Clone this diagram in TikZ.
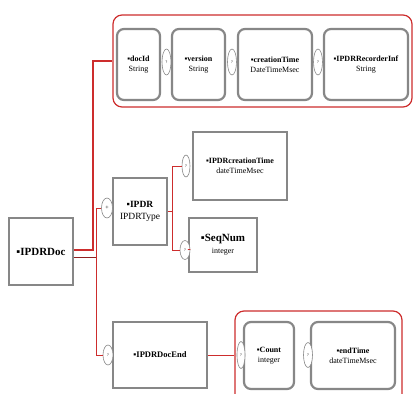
\documentclass[tikz,border=0pt]{standalone}
\usepackage{fontspec}
\setmainfont{Liberation Serif}
\usetikzlibrary{shapes, positioning}
\definecolor{linkred}{RGB}{205, 45, 45}
\definecolor{boxgray}{RGB}{135, 135, 135}

\begin{document}
\begin{tikzpicture}[x=1pt, y=-1pt,
        elem/.style={rectangle, draw=boxgray, line width=2.2pt, fill=white, align=center, inner sep=1pt, font=\fontsize{8}{10}\selectfont},
        attr/.style={elem, rounded corners=7pt},
        group/.style={rectangle, draw=linkred, line width=1.2pt, rounded corners=9pt},
        card/.style={ellipse, draw=boxgray, fill=white, line width=0.6pt, inner sep=0pt, font=\fontsize{4}{4}\selectfont},
        link/.style={draw=linkred, line width=0.9pt},
        mainlink/.style={draw=linkred, line width=1.8pt}
    ]
        \useasboundingbox (0,0) rectangle (416,394);

        % red groups
        \node[group, minimum width=299pt, minimum height=92pt] (topgrp) at (262.5, 61) {};
        \node[group, minimum width=167pt, minimum height=99pt] (endgrp) at (318.5, 360.5) {};

        % header attributes
        \node[attr, minimum width=43pt, minimum height=71pt] (docid) at (138.5, 64.5) {\textbf{▪docId}\\String};
        \node[attr, minimum width=53pt, minimum height=71pt] (version) at (198.5, 64.5) {\textbf{▪version}\\String};
        \node[attr, minimum width=74pt, minimum height=71pt] (ctime) at (275, 64.5) {\textbf{▪creationTime}\\DateTimeMsec};
        \node[attr, minimum width=84pt, minimum height=71pt] (recinf) at (366, 64.5) {\textbf{▪IPDRRecorderInf}\\String};
        \node[card, minimum width=9pt, minimum height=26pt] (q1) at (166.5, 62) {?};
        \node[card, minimum width=9pt, minimum height=26pt] (q2) at (232, 62) {?};
        \node[card, minimum width=9pt, minimum height=26pt] (q3) at (318, 62) {?};

        % main elements
        \node[elem, minimum width=64pt, minimum height=67pt, font=\fontsize{11}{13}\selectfont\bfseries] (doc) at (41, 251.5) {▪IPDRDoc};
        \node[elem, minimum width=54pt, minimum height=67pt, font=\fontsize{9.5}{12}\selectfont] (ipdr) at (140, 211.5) {\textbf{▪IPDR}\\IPDRType};
        \node[elem, minimum width=94pt, minimum height=66pt, font=\fontsize{8.5}{10}\selectfont\bfseries] (docend) at (160, 355) {▪IPDRDocEnd};
        \node[card, minimum width=11pt, minimum height=20pt, font=\fontsize{6}{6}\selectfont] (plus) at (107, 208) {+};
        \node[card, minimum width=10pt, minimum height=20pt] (qend) at (108, 355) {?};

        % IPDR children
        \node[elem, minimum width=94pt, minimum height=68pt] (ipdrtime) at (240, 166) {\textbf{▪IPDRcreationTime}\\dateTimeMsec};
        \node[elem, minimum width=68pt, minimum height=54pt, font=\fontsize{11}{13}\selectfont] (seq) at (223, 245) {\textbf{▪SeqNum}\\[-1pt]{\fontsize{8}{9}\selectfont integer}};
        \node[card, minimum width=8pt, minimum height=22pt] (qtime) at (186, 166) {?};
        \node[card, minimum width=10pt, minimum height=19pt] (qseq) at (185, 250) {?};

        % IPDRDocEnd children
        \node[attr, minimum width=50pt, minimum height=67pt] (count) at (269, 355.5) {\textbf{▪Count}\\integer};
        \node[attr, minimum width=84pt, minimum height=67pt] (endtime) at (353, 355.5) {\textbf{▪endTime}\\dateTimeMsec};
        \node[card, minimum width=8pt, minimum height=27pt] (qcount) at (241, 355) {?};
        \node[card, minimum width=9pt, minimum height=25pt] (qendt) at (308, 355) {?};

        % connectors
        \coordinate (hjoin) at (93, 0);
        \coordinate (spine) at (96, 0);
        \coordinate (fork) at (172, 0);
        \draw[mainlink] ([yshift=1.5pt]doc.east) -- ([yshift=1.5pt]doc.east -| hjoin) -- (topgrp.west -| hjoin) -- (topgrp.west);
        \draw[link, draw=linkred!70!black] ([yshift=-5.5pt]doc.east) -- ([yshift=-5.5pt]doc.east -| spine);
        \draw[link] (plus) -- (plus -| spine) -- (qend -| spine) -- (qend);
        \draw[link] (ipdr) -- (ipdr -| fork);
        \draw[link] (qtime) -- (qtime -| fork) -- (qseq -| fork) -- (qseq);
        \draw[link] (qseq) -- (seq);
        \draw[link] (docend.east) -- (docend.east -| endgrp.west);
    \end{tikzpicture}
\end{document}
